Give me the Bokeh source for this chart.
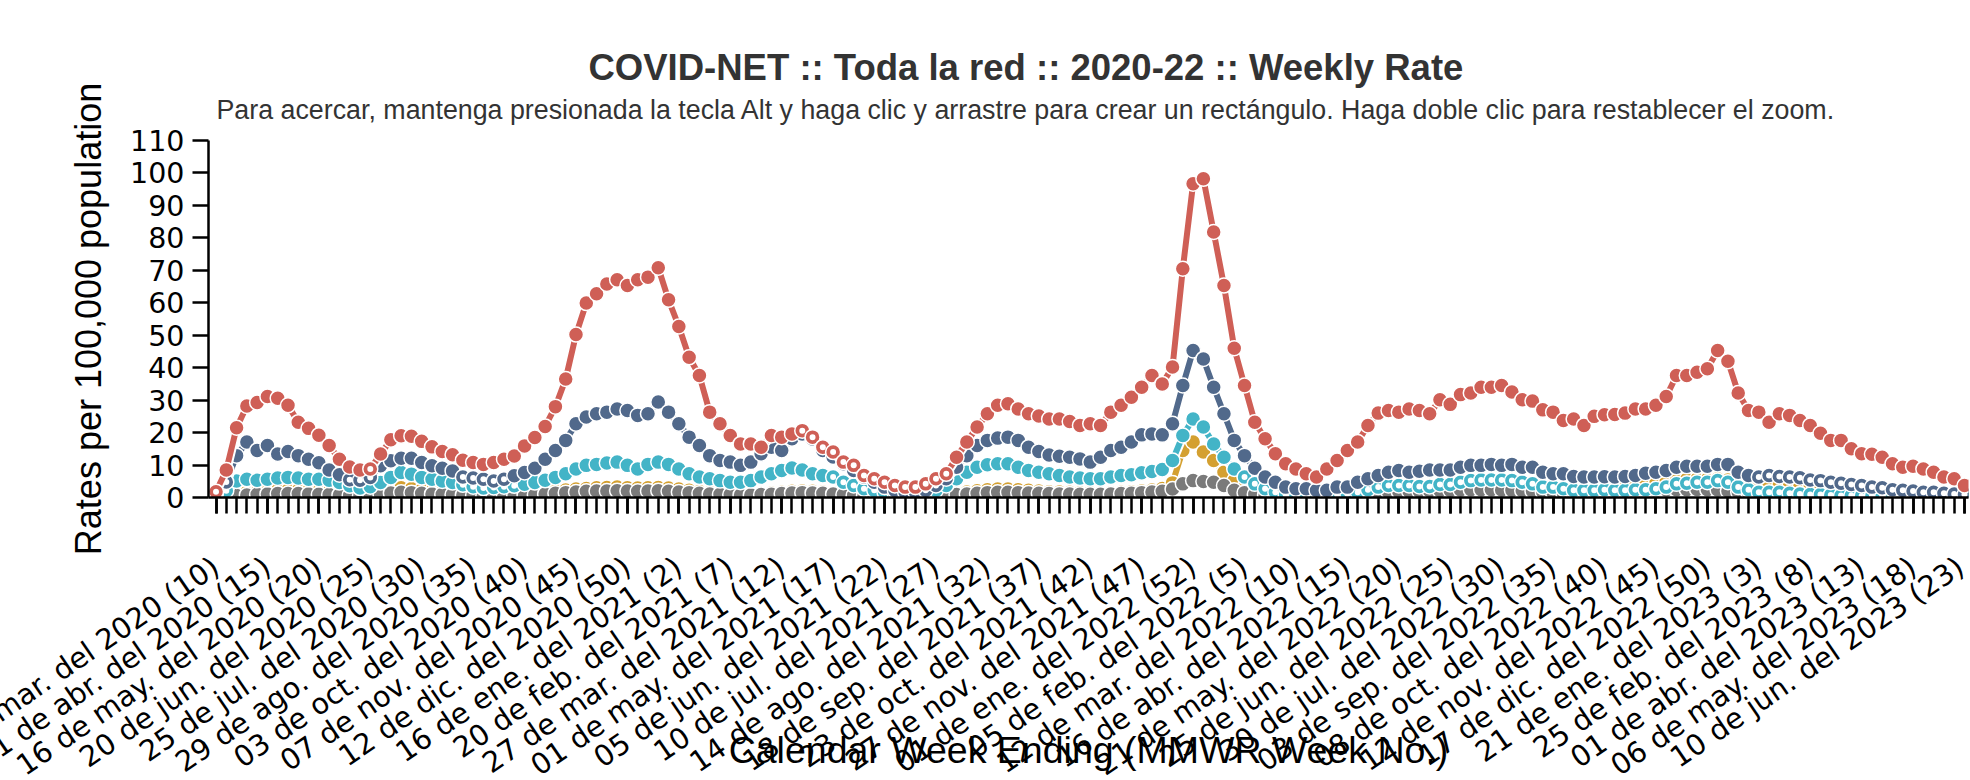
from bokeh.plotting import figure
from bokeh.models import FixedTicker, Range1d, Title, ColumnDataSource
from bokeh.embed import file_html
from bokeh.resources import INLINE

TITLE = "COVID-NET :: Toda la red :: 2020-22 :: Weekly Rate"
SUBTITLE = ("Para acercar, mantenga presionada la tecla Alt y haga clic y arrastre para crear "
            "un rectángulo. Haga doble clic para restablecer el zoom.")
Y_LABEL = "Rates per 100,000 population"
X_LABEL = "Calendar Week Ending (MMWR Week No.)"

# one entry per MMWR week, 2020 wk10 (index 0) .. 2023 wk23 (index 170)
week_index = list(range(171))

tick_positions = list(range(0, 171, 5))
tick_labels = [
    "07 de mar. del 2020 (10)", "11 de abr. del 2020 (15)", "16 de may. del 2020 (20)",
    "20 de jun. del 2020 (25)", "25 de jul. del 2020 (30)", "29 de ago. del 2020 (35)",
    "03 de oct. del 2020 (40)", "07 de nov. del 2020 (45)", "12 de dic. del 2020 (50)",
    "16 de ene. del 2021 (2)", "20 de feb. del 2021 (7)", "27 de mar. del 2021 (12)",
    "01 de may. del 2021 (17)", "05 de jun. del 2021 (22)", "10 de jul. del 2021 (27)",
    "14 de ago. del 2021 (32)", "18 de sep. del 2021 (37)", "23 de oct. del 2021 (42)",
    "27 de nov. del 2021 (47)", "01 de ene. del 2022 (52)", "05 de feb. del 2022 (5)",
    "12 de mar. del 2022 (10)", "16 de abr. del 2022 (15)", "21 de may. del 2022 (20)",
    "25 de jun. del 2022 (25)", "30 de jul. del 2022 (30)", "03 de sep. del 2022 (35)",
    "08 de oct. del 2022 (40)", "12 de nov. del 2022 (45)", "17 de dic. del 2022 (50)",
    "21 de ene. del 2023 (3)", "25 de feb. del 2023 (8)", "01 de abr. del 2023 (13)",
    "06 de may. del 2023 (18)", "10 de jun. del 2023 (23)",
]

rate_red = [
    1.8, 8.5, 21.5, 28.2, 29.3, 31.1, 30.6, 28.4, 23.2, 21.3,
    19.2, 16.0, 11.8, 9.4, 8.5, 8.8, 13.4, 17.8, 19.0, 18.9,
    17.3, 15.6, 14.2, 13.2, 11.5, 10.8, 10.2, 10.8, 11.8, 12.8,
    15.9, 18.5, 21.9, 28.0, 36.5, 50.2, 59.9, 62.8, 65.8, 67.1,
    65.3, 67.1, 67.9, 70.8, 60.9, 52.7, 43.2, 37.6, 26.3, 22.7,
    19.1, 16.5, 16.5, 15.5, 19.1, 18.6, 19.6, 20.6, 18.6, 15.5,
    14.0, 10.9, 9.9, 6.8, 5.8, 4.7, 3.7, 3.2, 3.2, 4.2,
    5.8, 7.3, 12.4, 17.1, 21.7, 25.8, 28.4, 28.9, 27.3, 25.8,
    25.1, 24.2, 24.2, 23.4, 22.2, 22.7, 22.2, 26.3, 28.4, 30.9,
    34.0, 37.6, 35.0, 40.2, 70.5, 96.7, 98.2, 81.8, 65.3, 46.0,
    34.5, 23.2, 18.1, 13.5, 10.4, 8.8, 7.3, 6.3, 8.8, 11.4,
    14.5, 17.1, 22.2, 26.0, 26.8, 26.3, 27.3, 26.8, 25.8, 30.1,
    28.7, 31.7, 32.2, 34.0, 34.0, 34.5, 32.5, 30.1, 29.7, 27.0,
    26.3, 23.7, 24.2, 22.2, 25.0, 25.5, 25.6, 26.0, 27.3, 27.3,
    28.4, 31.1, 37.6, 37.6, 38.6, 39.7, 45.3, 42.0, 32.2, 26.8,
    26.3, 23.2, 25.8, 25.3, 23.7, 22.2, 19.8, 17.6, 17.6, 15.0,
    13.5, 13.3, 12.4, 10.4, 9.3, 9.6, 8.8, 7.8, 6.3, 5.8,
    3.7,
]

rate_blue = [
    1.5, 4.8, 12.9, 17.1, 14.5, 16.0, 13.4, 14.2, 12.9, 11.8,
    10.7, 8.5, 7.0, 5.5, 5.3, 6.2, 9.8, 11.3, 12.1, 12.1,
    10.8, 9.8, 9.0, 8.2, 6.3, 6.0, 5.6, 5.1, 5.6, 6.7,
    7.7, 9.0, 11.8, 14.5, 17.6, 22.7, 24.8, 25.8, 26.3, 27.3,
    26.8, 25.3, 25.8, 29.4, 26.3, 22.7, 18.6, 16.0, 12.9, 11.4,
    10.9, 9.9, 10.9, 13.5, 15.5, 14.5, 18.1, 19.6, 18.0, 14.5,
    12.5, 10.4, 8.3, 6.3, 4.7, 3.2, 2.2, 1.6, 1.6, 2.2,
    3.7, 5.8, 9.3, 12.9, 16.0, 17.6, 18.3, 18.6, 17.6, 15.5,
    14.2, 13.1, 12.7, 12.4, 11.9, 10.9, 12.4, 14.5, 15.5, 17.1,
    19.3, 19.6, 19.3, 22.7, 34.5, 45.3, 42.7, 34.0, 25.8, 17.6,
    12.9, 9.0, 6.3, 4.7, 3.2, 2.7, 2.7, 2.2, 2.2, 3.2,
    3.2, 4.7, 5.8, 6.8, 7.8, 8.3, 7.8, 8.1, 8.5, 8.5,
    8.5, 9.3, 9.9, 9.9, 10.2, 9.9, 10.2, 9.3, 9.3, 7.8,
    7.3, 7.3, 6.5, 6.3, 6.3, 6.4, 6.3, 6.5, 6.8, 7.5,
    7.8, 8.3, 9.3, 9.6, 9.6, 9.6, 10.2, 10.2, 7.8, 6.8,
    6.3, 6.8, 6.5, 6.3, 6.1, 5.4, 5.2, 4.7, 4.4, 4.0,
    3.7, 3.2, 3.0, 2.4, 2.2, 2.0, 1.6, 1.6, 1.3, 1.1,
    0.9,
]

rate_teal = [
    0.5, 2.1, 5.1, 5.6, 5.3, 5.6, 6.0, 6.2, 6.0, 5.6,
    5.6, 5.3, 4.6, 3.6, 2.9, 3.3, 4.6, 6.2, 7.7, 7.2,
    6.2, 5.6, 5.1, 4.6, 3.9, 3.3, 2.9, 3.1, 3.3, 3.6,
    4.1, 4.6, 5.3, 6.2, 7.3, 8.8, 9.9, 10.2, 10.6, 10.9,
    9.9, 8.8, 10.2, 10.9, 10.2, 8.8, 7.3, 6.3, 5.8, 5.2,
    4.7, 4.7, 5.2, 6.3, 7.3, 8.3, 9.1, 8.5, 7.3, 6.8,
    6.3, 4.7, 3.7, 2.7, 2.2, 1.6, 1.1, 0.9, 0.6, 1.1,
    2.2, 3.7, 5.8, 7.8, 9.3, 10.1, 10.4, 10.4, 9.3, 8.3,
    7.8, 7.3, 6.8, 6.3, 6.0, 5.8, 5.8, 6.3, 6.8, 7.0,
    7.6, 8.0, 8.6, 11.4, 19.1, 24.2, 21.7, 16.5, 12.4, 8.8,
    6.3, 4.2, 2.7, 1.6, 0.9, 0.6, 0.6, 0.6, 0.6, 0.9,
    1.1, 1.6, 2.4, 3.2, 3.7, 3.7, 3.7, 3.4, 3.4, 4.0,
    4.0, 4.7, 5.2, 5.4, 5.4, 5.4, 5.2, 4.7, 4.2, 3.2,
    3.2, 2.7, 2.2, 2.2, 2.2, 2.4, 2.2, 2.2, 2.4, 2.4,
    2.7, 3.2, 4.2, 4.4, 4.7, 4.7, 5.2, 4.7, 3.2, 2.4,
    1.6, 1.6, 1.6, 1.3, 1.1, 0.9, 0.9, 0.8, 0.6, 0.6,
    0.5, 0.5, 0.4, 0.4, 0.4, 0.4, 0.3, 0.3, 0.3, 0.3,
    0.3,
]

rate_orange = [
    0.2, 0.5, 1.2, 1.6, 1.8, 2.0, 2.2, 2.2, 2.2, 2.1,
    2.0, 1.8, 1.6, 1.3, 1.2, 1.4, 2.0, 2.8, 3.0, 2.7,
    2.3, 2.0, 1.8, 1.5, 1.2, 1.0, 0.9, 0.9, 1.0, 1.1,
    1.3, 1.5, 1.8, 2.0, 2.3, 2.6, 2.8, 3.0, 3.1, 3.2,
    3.0, 2.9, 3.0, 3.1, 2.9, 2.6, 2.2, 1.9, 1.6, 1.4,
    1.2, 1.1, 1.1, 1.2, 1.4, 1.6, 1.9, 2.0, 1.9, 1.7,
    1.4, 1.1, 0.8, 0.6, 0.5, 0.4, 0.3, 0.3, 0.3, 0.4,
    0.6, 0.9, 1.3, 1.7, 2.1, 2.4, 2.6, 2.6, 2.4, 2.2,
    2.0, 1.8, 1.7, 1.6, 1.5, 1.5, 1.4, 1.5, 1.6, 1.8,
    2.0, 2.3, 2.8, 4.5, 14.5, 17.1, 14.0, 11.4, 7.8, 5.2,
    3.2, 1.8, 1.2, 0.9, 0.8, 0.8, 0.8, 0.9, 1.0, 1.2,
    1.5, 1.9, 2.4, 2.9, 3.3, 3.5, 3.6, 3.6, 3.7, 3.9,
    4.2, 4.5, 4.8, 5.0, 5.1, 5.0, 4.8, 4.5, 4.1, 3.6,
    3.2, 2.9, 2.6, 2.5, 2.5, 2.7, 2.9, 3.2, 3.6, 4.0,
    4.5, 5.0, 5.5, 5.6, 5.7, 5.6, 5.8, 5.4, 4.6, 4.0,
    3.8, 3.9, 3.8, 3.7, 3.6, 3.5, 3.4, 3.3, 3.2, 3.0,
    2.8, 2.6, 2.4, 2.2, 2.0, 1.8, 1.6, 1.4, 1.2, 1.0,
    0.8,
]

rate_gray = [
    0.1, 0.3, 0.6, 0.8, 1.0, 1.1, 1.2, 1.2, 1.2, 1.1,
    1.0, 0.9, 0.8, 0.7, 0.6, 0.7, 1.0, 1.4, 1.6, 1.5,
    1.3, 1.1, 1.0, 0.9, 0.8, 0.7, 0.6, 0.6, 0.6, 0.7,
    0.8, 0.9, 1.1, 1.3, 1.5, 1.7, 1.9, 2.0, 2.0, 2.1,
    2.0, 1.9, 2.0, 2.1, 1.9, 1.7, 1.5, 1.3, 1.1, 1.0,
    0.9, 0.8, 0.8, 0.9, 1.0, 1.2, 1.4, 1.5, 1.4, 1.3,
    1.1, 0.9, 0.7, 0.5, 0.4, 0.3, 0.3, 0.3, 0.3, 0.4,
    0.5, 0.7, 0.9, 1.1, 1.3, 1.5, 1.6, 1.6, 1.5, 1.4,
    1.3, 1.2, 1.1, 1.1, 1.0, 1.0, 1.0, 1.1, 1.2, 1.3,
    1.5, 1.7, 1.9, 2.6, 4.2, 5.2, 4.9, 4.7, 3.7, 2.2,
    1.5, 1.0, 0.8, 0.7, 0.6, 0.6, 0.6, 0.6, 0.7, 0.8,
    0.9, 1.1, 1.3, 1.5, 1.7, 1.8, 1.9, 1.9, 2.0, 2.1,
    2.2, 2.3, 2.4, 2.4, 2.4, 2.3, 2.2, 2.1, 1.9, 1.7,
    1.5, 1.4, 1.3, 1.2, 1.2, 1.3, 1.4, 1.6, 1.8, 2.0,
    2.2, 2.3, 2.4, 2.4, 2.5, 2.4, 2.3, 2.0, 1.7, 1.5,
    1.4, 1.3, 1.2, 1.1, 1.0, 0.9, 0.8, 0.8, 0.7, 0.6,
    0.6, 0.5, 0.5, 0.4, 0.4, 0.4, 0.3, 0.3, 0.3, 0.3,
    0.3,
]

# drawing style per series (bottom to top); "open" = weeks drawn as open rings
COLORS = {"orange": "#d4a030", "gray": "#7a7a7a", "teal": "#43b4c7",
          "blue": "#51698b", "red": "#cf5f56"}
OPEN_WEEKS = {
    "red": [0, 15] + list(range(57, 72)),
    "blue": [0, 1, 13, 14, 15] + list(range(24, 29)) + list(range(56, 71)) + list(range(150, 171)),
    "teal": [0, 1] + list(range(24, 30)) + list(range(60, 71)) + list(range(100, 171)),
}
series = [
    ("orange", rate_orange),
    ("gray", rate_gray),
    ("teal", rate_teal),
    ("blue", rate_blue),
    ("red", rate_red),
]

FONT = "Liberation Sans"
TICK_FONT = "DejaVu Sans"

# the canvas reaches 100px past the left window edge, so the first rotated
# date label is cut by the window edge (as in the original) instead of being
# pushed inside the canvas
LEFT_BLEED = 100

p = figure(width=1970 + LEFT_BLEED, height=780, output_backend="svg", toolbar_location=None,
           x_range=Range1d(-0.73, 170.39), y_range=Range1d(0, 110), title=None,
           min_border_left=208 + LEFT_BLEED, min_border_right=2, min_border_bottom=283,
           min_border_top=140, margin=(0, 0, 0, -LEFT_BLEED))
p.outline_line_color = None
p.grid.visible = False
p.background_fill_color = "white"
p.border_fill_color = "white"

sub = Title(text=SUBTITLE, align="left", offset=8, text_font=FONT,
            text_font_size="26.8px", text_font_style="normal", text_color="#333333",
            standoff=31)
main = Title(text=TITLE, align="left", offset=380, text_font=FONT,
             text_font_size="36.5px", text_font_style="bold", text_color="#333333",
             standoff=-20)
p.add_layout(sub, "above")
p.add_layout(main, "above")

for name, vals in series:
    color = COLORS[name]
    src = ColumnDataSource(dict(x=week_index, y=vals))
    p.line("x", "y", source=src, line_color="white", line_width=10)
    p.line("x", "y", source=src, line_color=color, line_width=6)
    p.scatter("x", "y", source=src, size=15, fill_color=color,
              line_color="white", line_width=1.5)
    open_idx = OPEN_WEEKS.get(name, [])
    if open_idx:
        osrc = ColumnDataSource(dict(x=[week_index[i] for i in open_idx],
                                     y=[vals[i] for i in open_idx]))
        p.scatter("x", "y", source=osrc, size=6, fill_color="white", line_color=None)

# y axis
yax = p.yaxis[0]
yax.ticker = FixedTicker(ticks=list(range(0, 111, 10)))
yax.axis_label = Y_LABEL
yax.axis_label_text_font = FONT
yax.axis_label_text_font_size = "36px"
yax.axis_label_text_font_style = "normal"
yax.axis_label_text_color = "black"
yax.axis_label_standoff = 18
yax.major_label_text_font = TICK_FONT
yax.major_label_text_font_size = "28.5px"
yax.major_label_text_color = "black"
yax.major_label_standoff = 8
yax.major_tick_out = 16
yax.major_tick_in = 0
yax.minor_tick_out = 0
yax.minor_tick_in = 0
yax.major_tick_line_width = 2.5
yax.axis_line_width = 2.5
yax.axis_line_color = "black"

# x axis: weekly ticks, a dated label every fifth week; the axis title
# overlaps the rotated labels as in the original
xax = p.xaxis[0]
xax.ticker = FixedTicker(ticks=tick_positions, minor_ticks=week_index)
xax.major_label_overrides = {pos: lab for pos, lab in zip(tick_positions, tick_labels)}
xax.major_label_orientation = 0.6
xax.major_label_text_font = TICK_FONT
xax.major_label_text_font_size = "28.8px"
xax.major_label_text_color = "black"
xax.major_label_standoff = 50
xax.major_tick_out = 16
xax.major_tick_in = 0
xax.minor_tick_out = 16
xax.minor_tick_in = 0
xax.major_tick_line_width = 2.5
xax.minor_tick_line_width = 2.5
xax.major_tick_line_color = "black"
xax.minor_tick_line_color = "black"
xax.axis_line_width = 2.5
xax.axis_line_color = "black"
xax.axis_label = X_LABEL
xax.axis_label_text_font = FONT
xax.axis_label_text_font_size = "37.5px"
xax.axis_label_text_font_style = "normal"
xax.axis_label_text_color = "black"
xax.axis_label_standoff = -70

open("out.html", "w").write(file_html(p, INLINE))
